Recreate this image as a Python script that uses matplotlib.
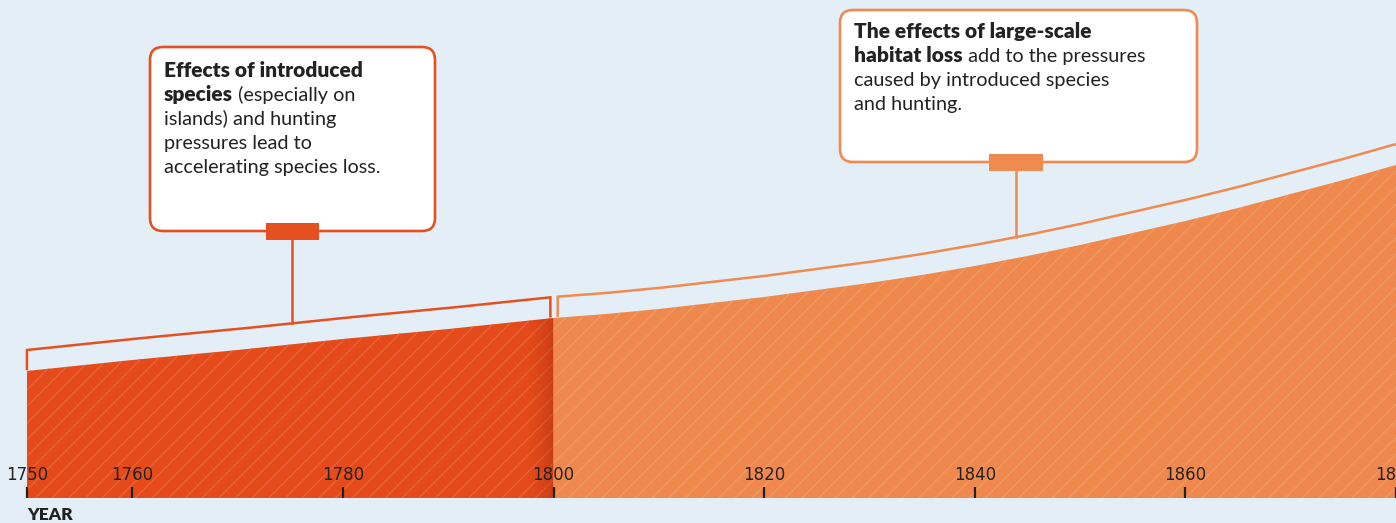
import numpy as np
import matplotlib.pyplot as plt
from matplotlib.patches import FancyBboxPatch, Rectangle
from matplotlib.colors import to_rgb

# --- data (height of the extinction wedge, arbitrary units) ---
red_years = [1750, 1760, 1770, 1780, 1790, 1800]
red_vals = [127, 138, 148, 159, 169, 180]
orange_years = [1800, 1805, 1810, 1815, 1820, 1825, 1830, 1835, 1840,
                1845, 1850, 1855, 1860, 1865, 1870, 1875, 1880]
orange_vals = [180, 184, 189, 195, 201, 208, 215, 223, 232,
               242, 253, 265, 277, 290, 304, 318, 333]
tick_years = [1750, 1760, 1780, 1800, 1820, 1840, 1860, 1880]

red_text = [
    [('Effects of introduced', 'bold')],
    [('species', 'bold'), (' (especially on', 'normal')],
    [('islands) and hunting', 'normal')],
    [('pressures lead to', 'normal')],
    [('accelerating species loss.', 'normal')],
]
orange_text = [
    [('The effects of large-scale', 'bold')],
    [('habitat loss', 'bold'), (' add to the pressures', 'normal')],
    [('caused by introduced species', 'normal')],
    [('and hunting.', 'normal')],
]

BG = '#e3eef6'
RED = '#e44a1a'
RED_LINE = '#e4501f'
ORANGE = '#ef884c'
ORANGE_LINE = '#ef8a50'
INK = '#222222'
GAP = 21

plt.rcParams['hatch.linewidth'] = 1.0

fig = plt.figure(figsize=(13.96, 5.23), dpi=100)
fig.patch.set_facecolor(BG)
ax = fig.add_axes([0, 0, 1, 1])
ax.set_xlim(1747.44, 1880.0)
ax.set_ylim(-25, 498)
ax.axis('off')

# areas
red_fill = ax.fill_between(red_years, 0, red_vals, facecolor=RED, linewidth=0, zorder=1)
ax.fill_between(red_years, 0, red_vals, facecolor='none', edgecolor='#ea6236',
                linewidth=0, hatch='//', zorder=2)
ax.fill_between(orange_years, 0, orange_vals, facecolor=ORANGE, linewidth=0, zorder=1)
ax.fill_between(orange_years, 0, orange_vals, facecolor='none', edgecolor='#f29a64',
                linewidth=0, hatch='//', zorder=2)

# dark shading at the end of the red period
ramp = np.zeros((1, 60, 4))
ramp[0, :, 0:3] = to_rgb('#8a2000')
ramp[0, :, 3] = np.linspace(0, 0.45, 60) ** 1.5
im = ax.imshow(ramp, extent=[1797.4, 1800, 0, 200], aspect='auto', zorder=3,
               interpolation='bilinear')
im.set_clip_path(red_fill.get_paths()[0], ax.transData)


def fill_at(yr, years, vals):
    return np.interp(yr, years, vals)


# brackets above the areas
def bracket(x0, x1, years, vals, color):
    xs = np.linspace(x0, x1, 200)
    top = fill_at(xs, years, vals) + GAP
    px = np.concatenate([[x0], xs, [x1]])
    py = np.concatenate([[fill_at(x0, years, vals) + 2], top, [fill_at(x1, years, vals) + 2]])
    ax.plot(px, py, color=color, lw=1.8, solid_joinstyle='miter', zorder=4)


bracket(1750, 1799.7, red_years, red_vals, RED_LINE)
bracket(1800.4, 1881, orange_years, orange_vals, ORANGE_LINE)

# axis ticks
ax.vlines(tick_years, 0, 11, color=INK, lw=1.6, zorder=5)
for yr in tick_years:
    ax.text(yr, 22.5, str(yr), ha='center', va='center', fontsize=12,
            color=INK, zorder=5)
ax.text(1750, -17, 'YEAR', ha='left', va='center', fontsize=12.5, fontweight='heavy',
        family='Lato', color=INK)

# annotation boxes in pixel coordinates
ax2 = fig.add_axes([0, 0, 1, 1], zorder=6)
ax2.set_xlim(0, 1396)
ax2.set_ylim(523, 0)
ax2.axis('off')
ax2.patch.set_alpha(0)

fig.canvas.draw()
renderer = fig.canvas.get_renderer()


def to_px(yr, val):
    dx, dy = ax.transData.transform((yr, val))
    return dx, 523 - dy


def callout(box, cx, tab_w, tab_h, color, lines, text_x, base_y, years, vals):
    x0, y0, x1, y1 = box
    ax2.add_patch(FancyBboxPatch((x0, y0), x1 - x0, y1 - y0,
                                 boxstyle='round,pad=0,rounding_size=13',
                                 facecolor='white', edgecolor=color, lw=1.9))
    ax2.add_patch(Rectangle((cx - tab_w / 2, y1 - tab_h / 2), tab_w, tab_h,
                            facecolor=color, edgecolor='none', zorder=3))
    yr = ax.transData.inverted().transform((cx, 0))[0]
    _, by = to_px(yr, fill_at(yr, years, vals) + GAP)
    ax2.plot([cx, cx], [y1 + tab_h / 2, by], color=color, lw=1.8)
    y = base_y
    for runs in lines:
        x = text_x
        for s, w in runs:
            if w == 'bold':
                t = ax2.text(x, y, s, fontsize=15, fontweight='heavy',
                             family='Lato', color=INK, va='baseline', ha='left')
            else:
                t = ax2.text(x, y, s, fontsize=14.3, fontweight='normal',
                             family='Lato', color=INK, va='baseline', ha='left')
            x += t.get_window_extent(renderer).width
        y += 24


callout((150, 47, 435, 231), 292, 53, 17, RED_LINE, red_text, 164, 77,
        red_years, red_vals)
callout((840, 10, 1197, 162), 1016, 54, 17, ORANGE_LINE, orange_text, 854, 38,
        orange_years, orange_vals)

plt.savefig('out.png', dpi=100, facecolor=BG)
